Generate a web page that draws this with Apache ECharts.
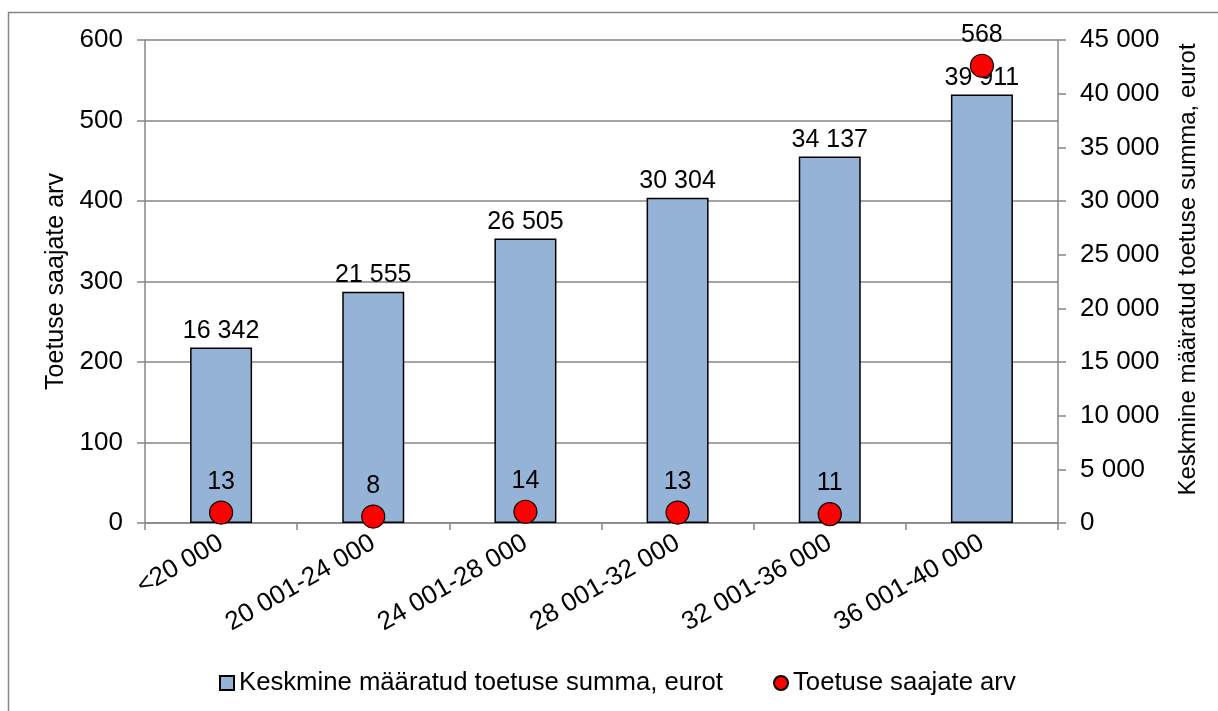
<!DOCTYPE html>
<html>
<head>
<meta charset="utf-8">
<script src="https://cdn.jsdelivr.net/npm/echarts@6/dist/echarts.min.js"></script>
<style>
html,body{margin:0;padding:0;background:#fff;}
#chart{width:1218px;height:711px;}
</style>
</head>
<body>
<div id="chart"></div>
<script>
const categories = ['<20 000', '20 001-24 000', '24 001-28 000', '28 001-32 000', '32 001-36 000', '36 001-40 000'];
const avgAmount = [16342, 21555, 26505, 30304, 34137, 39911];
const recipients = [13, 8, 14, 13, 11, 568];
const barName = 'Keskmine määratud toetuse summa, eurot';
const dotName = 'Toetuse saajate arv';

function fmt(v) {
  return String(Math.round(v)).replace(/\B(?=(\d{3})+(?!\d))/g, ' ');
}

const FONT = '"Liberation Sans", Arial, sans-serif';
const chart = echarts.init(document.getElementById('chart'), null, {renderer: 'canvas'});
chart.setOption({
  animation: false,
  backgroundColor: '#fff',
  textStyle: {fontFamily: FONT, color: '#000'},
  graphic: [{
    type: 'rect',
    shape: {x: 8.5, y: 12.5, width: 1230, height: 730},
    style: {fill: 'none', stroke: '#868686', lineWidth: 1.5},
    silent: true
  }],
  grid: {left: 145, right: 160, top: 40, bottom: 188, containLabel: false},
  legend: {
    left: 214, top: 665,
    itemWidth: 14, itemHeight: 14, itemGap: 50,
    textStyle: {fontSize: 25.7, fontFamily: FONT, color: '#000'},
    data: [
      {name: barName, icon: 'rect'},
      {name: dotName, icon: 'circle'}
    ]
  },
  xAxis: {
    type: 'category',
    data: categories,
    axisLine: {lineStyle: {color: '#868686', width: 1.5}},
    axisTick: {show: true, length: 7, lineStyle: {color: '#868686', width: 1.5}},
    axisLabel: {rotate: 30, fontSize: 26, color: '#000', fontFamily: FONT, margin: 18, interval: 0},
    splitLine: {show: false}
  },
  yAxis: [{
    type: 'value',
    min: 0, max: 600, interval: 100,
    name: dotName,
    nameLocation: 'middle',
    nameRotate: 90,
    nameGap: 66,
    nameTextStyle: {fontSize: 25, color: '#000', fontFamily: FONT},
    axisLine: {show: true, lineStyle: {color: '#868686', width: 1.5}},
    axisTick: {show: true, length: 8, lineStyle: {color: '#868686', width: 1.5}},
    axisLabel: {fontSize: 26, color: '#000', fontFamily: FONT, margin: 22},
    splitLine: {show: true, lineStyle: {color: '#868686', width: 1.5}}
  }, {
    type: 'value',
    position: 'right',
    min: 0, max: 45000, interval: 5000,
    name: barName,
    nameLocation: 'middle',
    nameRotate: 90,
    nameGap: 118,
    nameTextStyle: {fontSize: 24, color: '#000', fontFamily: FONT, padding: [0, 0, 0, 24]},
    axisLine: {show: true, lineStyle: {color: '#868686', width: 1.5}},
    axisTick: {show: true, length: 8, lineStyle: {color: '#868686', width: 1.5}},
    axisLabel: {fontSize: 26, color: '#000', fontFamily: FONT, margin: 22, formatter: fmt},
    splitLine: {show: false}
  }],
  series: [{
    name: barName,
    type: 'bar',
    yAxisIndex: 1,
    data: avgAmount,
    barWidth: 62,
    itemStyle: {color: '#95B3D7', borderColor: '#000', borderWidth: 1.5},
    label: {show: true, position: 'top', distance: 4, fontSize: 25, color: '#000', fontFamily: FONT,
      formatter: p => fmt(p.value)},
    z: 2
  }, {
    name: dotName,
    type: 'scatter',
    yAxisIndex: 0,
    data: recipients,
    symbol: 'circle',
    symbolSize: 23,
    itemStyle: {color: '#FF0000', borderColor: '#000', borderWidth: 1.2, opacity: 1},
    label: {show: true, position: 'top', distance: 6, fontSize: 25, color: '#000', fontFamily: FONT},
    z: 5
  }]
});
</script>
</body>
</html>
